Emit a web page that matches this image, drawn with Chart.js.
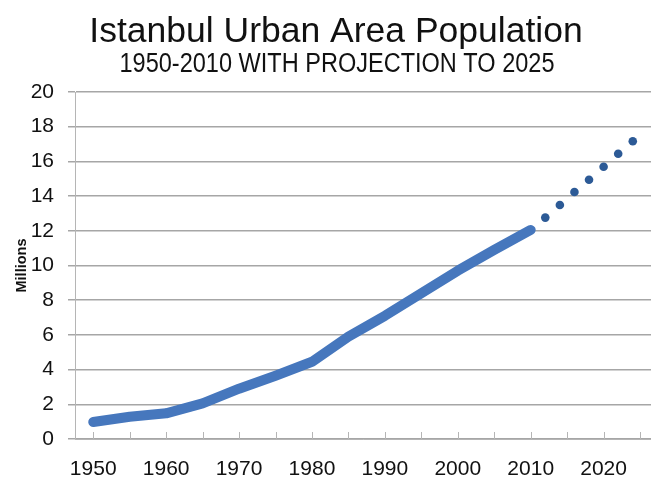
<!DOCTYPE html>
<html>
<head>
<meta charset="utf-8">
<script src="https://cdn.jsdelivr.net/npm/chart.js@4"></script>
<style>
  html, body { margin: 0; padding: 0; background: #fff; }
  #wrap { width: 651px; height: 478px; }
</style>
</head>
<body>
<div id="wrap"><canvas id="chart"></canvas></div>
<script>
  const actualYears = [1950, 1955, 1960, 1965, 1970, 1975, 1980, 1985, 1990, 1995, 2000, 2005, 2010];
  const actualPop = [0.98, 1.28, 1.48, 2.05, 2.9, 3.65, 4.45, 5.9, 7.1, 8.4, 9.7, 10.9, 12.05];

  const projYears = [2012, 2014, 2016, 2018, 2020, 2022, 2024];
  const projPop = [12.76, 13.49, 14.24, 14.94, 15.69, 16.44, 17.16];

  const xTickYears = [1950, 1955, 1960, 1965, 1970, 1975, 1980, 1985, 1990, 1995, 2000, 2005, 2010, 2015, 2020, 2025];

  const titleText = 'Istanbul Urban Area Population';
  const subtitleText = '1950-2010 WITH PROJECTION TO 2025';

  const sans = "'Liberation Sans', Arial, sans-serif";

  // title + subtitle drawn by hand so they can sit off-centre and the subtitle can be condensed
  const headings = {
    id: 'headings',
    afterDraw(chart) {
      const ctx = chart.ctx;
      ctx.save();
      ctx.fillStyle = '#111';
      ctx.textAlign = 'center';
      ctx.textBaseline = 'alphabetic';
      ctx.font = '35.5px ' + sans;
      ctx.fillText(titleText, 336, 42);

      ctx.font = '27px ' + sans;
      const w = ctx.measureText(subtitleText).width;
      const sx = 435 / w;
      ctx.translate(337, 72);
      ctx.scale(sx, 1);
      ctx.fillText(subtitleText, 0, 0);
      ctx.restore();
    }
  };

  // small tick marks pointing up from the x axis, like the Excel original
  const innerTicks = {
    id: 'innerTicks',
    beforeDatasetsDraw(chart) {
      const ctx = chart.ctx;
      const x = chart.scales.x;
      const bottom = chart.chartArea.bottom;
      ctx.save();
      ctx.strokeStyle = '#b5b5b5';
      ctx.lineWidth = 1;
      x.ticks.forEach(t => {
        const px = Math.round(x.getPixelForValue(t.value)) + 0.5;
        ctx.beginPath();
        ctx.moveTo(px, bottom);
        ctx.lineTo(px, bottom - 7);
        ctx.stroke();
      });
      ctx.restore();
    }
  };

  new Chart(document.getElementById('chart'), {
    type: 'line',
    data: {
      datasets: [
        {
          label: 'Population',
          data: actualYears.map((y, i) => ({ x: y, y: actualPop[i] })),
          borderColor: '#4677bd',
          borderWidth: 10,
          borderCapStyle: 'round',
          borderJoinStyle: 'round',
          pointRadius: 0,
          tension: 0
        },
        {
          label: 'Projection',
          data: projYears.map((y, i) => ({ x: y, y: projPop[i] })),
          showLine: false,
          pointRadius: 4.3,
          pointBackgroundColor: '#2c5a96',
          pointBorderWidth: 0
        }
      ]
    },
    options: {
      responsive: true,
      maintainAspectRatio: false,
      animation: false,
      layout: { autoPadding: false, padding: { left: 0, right: 0, top: 92, bottom: 0 } },
      plugins: {
        legend: { display: false },
        tooltip: { enabled: false },
        title: { display: false }
      },
      scales: {
        x: {
          type: 'linear',
          min: 1947.5,
          max: 2026.5,
          afterBuildTicks: axis => { axis.ticks = xTickYears.map(v => ({ value: v })) },
          afterFit: axis => { axis.height = 39; axis.paddingRight = 0; axis.paddingLeft = 0 },
          grid: { display: true, drawOnChartArea: false, drawTicks: false },
          border: { display: true, color: '#b5b5b5', width: 1 },
          ticks: {
            autoSkip: false,
            maxRotation: 0,
            padding: 18,
            color: '#111',
            font: { family: sans, size: 21 },
            callback: v => (v % 10 === 0 ? String(v) : '')
          }
        },
        y: {
          min: 0,
          max: 20,
          afterFit: axis => { axis.width = 75; axis.paddingTop = 0 },
          grid: { color: '#a6a6a6', lineWidth: 1.5, tickLength: 7 },
          border: { display: true, color: '#b5b5b5', width: 1 },
          ticks: {
            stepSize: 2,
            padding: 14,
            color: '#111',
            font: { family: sans, size: 21 }
          },
          title: {
            display: true,
            text: 'Millions',
            color: '#111',
            font: { family: sans, size: 14.5, weight: 'bold' },
            padding: { top: 13, bottom: 0 }
          }
        }
      }
    },
    plugins: [innerTicks, headings]
  });
</script>
</body>
</html>
